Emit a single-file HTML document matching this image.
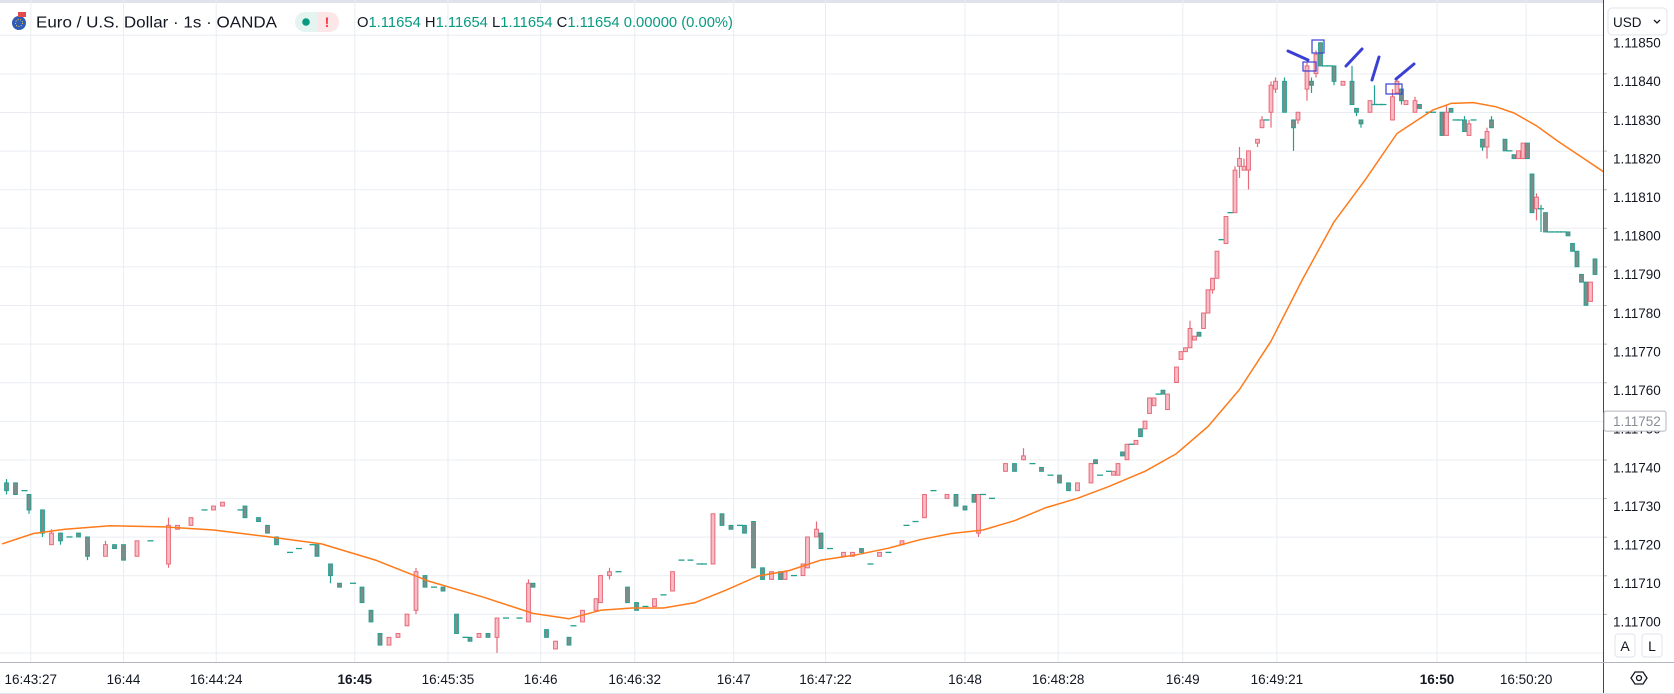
<!DOCTYPE html>
<html><head><meta charset="utf-8"><style>
html,body{margin:0;padding:0;background:#fff;width:1674px;height:694px;overflow:hidden}
svg{display:block;font-family:"Liberation Sans",sans-serif}
</style></head><body>
<svg id="chart" width="1674" height="694" viewBox="0 0 1674 694" xmlns="http://www.w3.org/2000/svg">
<rect x="0" y="0" width="1674" height="694" fill="#fff"/>
<rect x="0" y="0" width="1674" height="3" fill="#e0e3eb"/>
<g id="grid"></g>
<defs><clipPath id="plotclip"><rect x="0" y="0" width="1603" height="662"/></clipPath></defs>
<g id="plot" clip-path="url(#plotclip)"></g>
<g id="annot" stroke="#3b3fd3" fill="none">
<rect x="1312" y="40" width="12" height="13" stroke-width="1.2"/>
<rect x="1303" y="62" width="13" height="9" stroke-width="1.2"/>
<rect x="1386" y="84" width="16" height="10" stroke-width="1.2"/>
<line x1="1288" y1="51" x2="1308" y2="60" stroke-width="3" stroke-linecap="round"/>
<line x1="1346" y1="66" x2="1362" y2="49" stroke-width="3" stroke-linecap="round"/>
<line x1="1372" y1="80" x2="1379" y2="57" stroke-width="3" stroke-linecap="round"/>
<line x1="1396" y1="79" x2="1414" y2="64" stroke-width="3" stroke-linecap="round"/>
</g>
<g>
<g>
<circle cx="19" cy="23" r="7" fill="#2d5bb5"/><rect x="18" y="12" width="8" height="5" fill="#e04b4b"/><circle cx="19" cy="23" r="3.5" fill="none" stroke="#f4d03f" stroke-width="1" stroke-dasharray="1 1.5"/>
</g>
<text x="36" y="27.5" font-size="15.5" fill="#131722" textLength="241" lengthAdjust="spacingAndGlyphs">Euro / U.S. Dollar · 1s · OANDA</text>
<g>
<rect x="295" y="12" width="44" height="20" rx="10" fill="#e3f4f1"/>
<path d="M317 12 h12 a10 10 0 0 1 0 20 h-12 z" fill="#fde6e8"/>
<circle cx="306" cy="22" r="3.8" fill="#089981"/>
<text x="327" y="27" font-size="14" font-weight="bold" fill="#f23645" text-anchor="middle">!</text>
</g>
<text x="357" y="27" font-size="14.5" fill="#089981" textLength="376" lengthAdjust="spacingAndGlyphs"><tspan fill="#131722">O</tspan>1.11654 <tspan fill="#131722">H</tspan>1.11654 <tspan fill="#131722">L</tspan>1.11654 <tspan fill="#131722">C</tspan>1.11654 0.00000 (0.00%)</text>
</g>
<g id="axes"></g>
</svg>
<script>
// ---- data (prices) ----
const barIndex=[1,3,5,6,9,11,13,15,17,19,23,25,27,30,33,37,39,42,45,47,49,53,54,57,59,61,64,66,69,70,73,75,78,80,82,84,86,88,90,92,94,96,98,101,103,104,106,108,110,112,115,117,118,121,123,126,127,129,132,133,135,137,139,141,143,145,147,149,151,153,155,156,158,160,162,164,165,167,169,171,173,174,176,178,179,181,182,184,187,189,191,193,195,197,200,201,203,205,207,210,212,214,216,217,218,220,223,225,227,229,231,233,235,237,239,
242,243,244,246,247,248,249,250,251,252,253,254,255,256,257,258,259,261,262,263,264,265,266,267,268,269,270,271,272,273,274,275,276,277,279,280,281,
282,283,285,287,288,290,291,292,293,294,295,296,298,300,301,302,304,305,306,307,309,310,311,312,314,315,317,318,320,321,322,323,324,325,326,327,329,330,331,334,335,336,337,338,339,340,341,342,343,344,345,346,347,348,349,350,351,352,353,354];
const opens=[1.11736,1.11736,1.11734,1.11733,1.11729,1.11720,1.11723,1.11722,1.11723,1.11722,1.11717,1.11720,1.11720,1.11717,1.11721,1.11715,1.11724,1.11725,1.11729,1.11729,1.11730,1.11729,1.11730,1.11727,1.11725,1.11722,1.11718,1.11719,1.11720,1.11720,1.11715,1.11710,1.11710,1.11709,1.11703,1.11697,1.11694,1.11696,1.11699,1.11703,1.11712,1.11709,1.11709,1.11702,1.11696,1.11696,1.11696,1.11697,1.11696,1.11701,1.11701,1.11700,1.11710,1.11698,1.11693,1.11696,1.11699,1.11700,1.11703,1.11705,1.11712,1.11713,1.11709,1.11705,1.11704,1.11704,1.11707,1.11708,1.11716,1.11716,1.11715,1.11715,1.11715,1.11728,1.11725,1.11725,1.11725,1.11726,1.11714,1.11711,1.11713,1.11711,1.11712,1.11712,1.11714,1.11722,1.11723,1.11719,1.11717,1.11717,1.11719,1.11715,1.11717,1.11718,1.11720,1.11725,1.11726,1.11727,1.11734,1.11732,1.11733,1.11730,1.11733,1.11723,1.11733,1.11732,1.11739,1.11741,1.11742,1.11741,1.11740,1.11738,1.11738,1.11736,1.11734,
1.11736,1.11742,1.11738,1.11739,1.11738,1.11738,1.11744,1.11742,1.11746,1.11746,1.11750,1.11750,1.11754,1.11756,1.11759,1.11760,1.11755,1.11762,1.11768,1.11770,1.11771,1.11773,1.11775,1.11776,1.11780,1.11786,1.11789,1.11799,1.11798,1.11806,1.11806,1.11818,1.11817,1.11817,1.11824,1.11828,1.11830,
1.11832,1.11838,1.11840,1.11830,1.11830,1.11838,1.11840,1.11842,1.11850,1.11844,1.11844,1.11844,1.11839,1.11840,1.11833,1.11830,1.11832,1.11834,1.11834,1.11834,1.11830,1.11837,1.11838,1.11834,1.11832,1.11834,1.11832,1.11832,1.11832,1.11826,1.11833,1.11830,1.11830,1.11830,1.11826,1.11830,1.11825,1.11823,1.11830,1.11825,1.11822,1.11821,1.11820,1.11820,1.11824,1.11816,1.11807,1.11807,1.11806,1.11801,1.11801,1.11801,1.11801,1.11801,1.11798,1.11796,1.11790,1.11788,1.11783,1.11794];
const highs=[1.11737,1.11736,1.11734,1.11733,1.11729,1.11724,1.11723,1.11722,1.11723,1.11722,1.11721,1.11720,1.11720,1.11721,1.11721,1.11727,1.11725,1.11727,1.11729,1.11730,1.11731,1.11729,1.11730,1.11727,1.11725,1.11722,1.11718,1.11719,1.11720,1.11720,1.11715,1.11710,1.11710,1.11709,1.11703,1.11697,1.11696,1.11697,1.11702,1.11714,1.11712,1.11709,1.11709,1.11702,1.11696,1.11696,1.11697,1.11697,1.11701,1.11701,1.11701,1.11711,1.11710,1.11698,1.11695,1.11696,1.11699,1.11703,1.11706,1.11712,1.11714,1.11713,1.11709,1.11705,1.11704,1.11706,1.11707,1.11713,1.11716,1.11716,1.11715,1.11715,1.11728,1.11728,1.11725,1.11725,1.11725,1.11726,1.11714,1.11713,1.11713,1.11713,1.11712,1.11715,1.11722,1.11726,1.11723,1.11719,1.11718,1.11718,1.11719,1.11715,1.11718,1.11718,1.11721,1.11725,1.11726,1.11733,1.11734,1.11733,1.11733,1.11730,1.11733,1.11733,1.11733,1.11732,1.11741,1.11741,1.11745,1.11741,1.11740,1.11738,1.11738,1.11736,1.11736,
1.11741,1.11742,1.11738,1.11739,1.11739,1.11741,1.11744,1.11746,1.11746,1.11747,1.11750,1.11752,1.11758,1.11758,1.11759,1.11760,1.11759,1.11766,1.11770,1.11771,1.11778,1.11774,1.11775,1.11780,1.11786,1.11789,1.11796,1.11799,1.11805,1.11806,1.11818,1.11823,1.11820,1.11822,1.11825,1.11831,1.11830,
1.11840,1.11841,1.11841,1.11830,1.11832,1.11845,1.11841,1.11848,1.11850,1.11844,1.11844,1.11844,1.11840,1.11844,1.11833,1.11830,1.11835,1.11839,1.11834,1.11834,1.11838,1.11841,1.11838,1.11835,1.11836,1.11834,1.11832,1.11832,1.11832,1.11834,1.11833,1.11830,1.11830,1.11831,1.11830,1.11830,1.11825,1.11828,1.11831,1.11825,1.11822,1.11821,1.11822,1.11824,1.11824,1.11816,1.11811,1.11808,1.11806,1.11801,1.11801,1.11801,1.11801,1.11801,1.11798,1.11796,1.11790,1.11788,1.11788,1.11794];
const lows=[1.11733,1.11733,1.11734,1.11728,1.11722,1.11720,1.11720,1.11722,1.11722,1.11716,1.11717,1.11719,1.11716,1.11717,1.11721,1.11714,1.11724,1.11725,1.11729,1.11729,1.11730,1.11729,1.11727,1.11726,1.11723,1.11720,1.11718,1.11719,1.11720,1.11717,1.11710,1.11709,1.11710,1.11705,1.11700,1.11694,1.11694,1.11696,1.11699,1.11702,1.11709,1.11709,1.11708,1.11697,1.11696,1.11695,1.11696,1.11696,1.11692,1.11701,1.11701,1.11700,1.11709,1.11696,1.11693,1.11694,1.11699,1.11700,1.11703,1.11705,1.11711,1.11713,1.11705,1.11703,1.11704,1.11704,1.11707,1.11708,1.11716,1.11716,1.11715,1.11715,1.11715,1.11725,1.11724,1.11725,1.11723,1.11714,1.11711,1.11711,1.11711,1.11711,1.11712,1.11712,1.11714,1.11722,1.11719,1.11719,1.11717,1.11717,1.11718,1.11715,1.11717,1.11718,1.11720,1.11725,1.11726,1.11727,1.11734,1.11732,1.11730,1.11729,1.11731,1.11722,1.11733,1.11732,1.11739,1.11739,1.11742,1.11741,1.11739,1.11738,1.11736,1.11734,1.11734,
1.11736,1.11741,1.11738,1.11739,1.11738,1.11738,1.11743,1.11742,1.11746,1.11746,1.11748,1.11750,1.11754,1.11756,1.11759,1.11759,1.11755,1.11762,1.11768,1.11770,1.11771,1.11773,1.11774,1.11776,1.11780,1.11785,1.11789,1.11799,1.11798,1.11806,1.11806,1.11815,1.11817,1.11812,1.11823,1.11828,1.11830,
1.11828,1.11837,1.11832,1.11822,1.11829,1.11835,1.11837,1.11841,1.11844,1.11844,1.11844,1.11839,1.11839,1.11834,1.11831,1.11828,1.11832,1.11834,1.11834,1.11834,1.11830,1.11837,1.11834,1.11834,1.11832,1.11833,1.11832,1.11832,1.11826,1.11826,1.11832,1.11830,1.11830,1.11827,1.11826,1.11830,1.11822,1.11820,1.11828,1.11822,1.11822,1.11820,1.11820,1.11820,1.11820,1.11806,1.11804,1.11801,1.11801,1.11801,1.11801,1.11801,1.11801,1.11800,1.11796,1.11792,1.11788,1.11782,1.11783,1.11790];
const closes=[1.11734,1.11733,1.11734,1.11729,1.11723,1.11723,1.11721,1.11722,1.11722,1.11717,1.11720,1.11719,1.11716,1.11721,1.11721,1.11725,1.11725,1.11727,1.11729,1.11730,1.11731,1.11729,1.11727,1.11726,1.11723,1.11720,1.11718,1.11719,1.11720,1.11717,1.11712,1.11709,1.11710,1.11705,1.11700,1.11694,1.11696,1.11697,1.11702,1.11713,1.11709,1.11709,1.11708,1.11697,1.11696,1.11695,1.11697,1.11696,1.11701,1.11701,1.11701,1.11710,1.11709,1.11696,1.11695,1.11694,1.11699,1.11703,1.11706,1.11712,1.11713,1.11713,1.11705,1.11703,1.11704,1.11706,1.11707,1.11713,1.11716,1.11716,1.11715,1.11715,1.11728,1.11725,1.11724,1.11725,1.11723,1.11714,1.11711,1.11713,1.11711,1.11713,1.11712,1.11715,1.11722,1.11724,1.11719,1.11719,1.11718,1.11718,1.11718,1.11715,1.11718,1.11718,1.11721,1.11725,1.11726,1.11733,1.11734,1.11733,1.11730,1.11729,1.11731,1.11733,1.11733,1.11732,1.11741,1.11739,1.11743,1.11741,1.11739,1.11738,1.11736,1.11734,1.11736,
1.11741,1.11741,1.11738,1.11739,1.11739,1.11741,1.11743,1.11746,1.11746,1.11747,1.11748,1.11752,1.11758,1.11758,1.11759,1.11759,1.11759,1.11766,1.11770,1.11771,1.11776,1.11774,1.11774,1.11780,1.11786,1.11789,1.11796,1.11799,1.11805,1.11806,1.11817,1.11820,1.11818,1.11822,1.11825,1.11830,1.11830,
1.11839,1.11840,1.11832,1.11828,1.11832,1.11844,1.11839,1.11847,1.11844,1.11844,1.11844,1.11840,1.11840,1.11834,1.11832,1.11829,1.11835,1.11834,1.11834,1.11834,1.11836,1.11840,1.11835,1.11835,1.11835,1.11833,1.11832,1.11832,1.11826,1.11832,1.11832,1.11830,1.11830,1.11827,1.11829,1.11830,1.11823,1.11827,1.11828,1.11822,1.11822,1.11820,1.11822,1.11824,1.11820,1.11806,1.11810,1.11807,1.11801,1.11801,1.11801,1.11801,1.11801,1.11800,1.11796,1.11792,1.11788,1.11782,1.11788,1.11790];
const maIndex=[0,7,14,24,36,47,59,71,83,95,107,118,126,133,140,147,154,161,168,175,182,190,197,204,211,218,225,232,239,246,254,261,268,275,282,289,296,303,310,318,322,327,332,336,341,346,351,356];
const maValues=[1.117202,1.117229,1.117240,1.117249,1.117246,1.117238,1.117221,1.117202,1.117160,1.117105,1.117064,1.117022,1.117008,1.117030,1.117036,1.117036,1.117050,1.117083,1.117119,1.117133,1.117160,1.117174,1.117191,1.117213,1.117229,1.117238,1.117262,1.117296,1.117320,1.117351,1.117390,1.117436,1.117506,1.117602,1.117727,1.117887,1.118036,1.118146,1.118265,1.118326,1.118343,1.118345,1.118334,1.118318,1.118285,1.118243,1.118204,1.118165];
const priceTicks=[1.11690,1.11700,1.11710,1.11720,1.11730,1.11740,1.11750,1.11760,1.11770,1.11780,1.11790,1.11800,1.11810,1.11820,1.11830,1.11840,1.11850];
const timeLabels=["16:43:27","16:44","16:44:24","16:45","16:45:35","16:46","16:46:32","16:47","16:47:22","16:48","16:48:28","16:49","16:49:21","16:50","16:50:20"];
const timeLabelIndex=[6.4,27,47.6,78.4,99.1,119.7,140.6,162.6,183,214,234.7,262.4,283.3,318.9,338.7];
const boldTimes=["16:45","16:50"];
const lastPrice=1.11752;

// ---- scales ----
const NS="http://www.w3.org/2000/svg";
const STEP=4.5;
function xs(i){return i*STEP+2;}
function ys(v){return 621.9-(v-1.117)*1e5*3.861;}
function mk(tag,attrs,parent){const e=document.createElementNS(NS,tag);for(const k in attrs)e.setAttribute(k,attrs[k]);parent.appendChild(e);return e;}

const grid=document.getElementById('grid');
const plot=document.getElementById('plot');
const axes=document.getElementById('axes');

// gridlines
priceTicks.forEach(v=>{
  const l=mk('line',{x1:0,x2:1603,y1:ys(v)-7.5,y2:ys(v)-7.5,stroke:'#e9edf2','stroke-width':1},grid);
  
  
});
timeLabelIndex.forEach(i=>{
  const l=mk('line',{x1:xs(i),x2:xs(i),y1:0,y2:662,stroke:'#e9edf2','stroke-width':1},grid);
  
  
});

// candles
const UPF='#f7bcc6',UPS='#e66a78',DNF='#7f8c8a',DNS='#22a08f';
for(let k=0;k<barIndex.length;k++){
  const x=xs(barIndex[k]),o=opens[k],c=closes[k],h=highs[k],l=lows[k];
  const g=mk('g',{},plot);
  
  
  const up=c>o, flat=Math.abs(c-o)<1e-9;
  const col=flat?DNS:(up?UPS:DNS);
  if(h-l>1e-9){mk('line',{x1:x,x2:x,y1:ys(h),y2:ys(l),stroke:col,'stroke-width':1.2},g);}
  if(flat){
    mk('line',{x1:x-3,x2:x+3,y1:ys(o),y2:ys(o),stroke:DNS,'stroke-width':1.3},g);
  }else{
    const top=ys(Math.max(o,c)),bot=ys(Math.min(o,c));
    mk('rect',{x:x-1.9,y:top,width:3.8,height:Math.max(bot-top,1.5),fill:up?UPF:DNF,stroke:col,'stroke-width':1},g);
  }
}

// moving average
let d='';
maIndex.forEach((i,k)=>{d+=(k?'L':'M')+xs(i).toFixed(1)+' '+ys(maValues[k]).toFixed(1);});
const ma=mk('path',{d:d,fill:'none',stroke:'#ff7a1a','stroke-width':1.5,'stroke-linejoin':'round'},plot);



// axes frame
const ra=mk('line',{x1:1603.5,x2:1603.5,y1:0,y2:694,stroke:'#434651','stroke-width':1},axes);


const ta=mk('line',{x1:0,x2:1603,y1:662.5,y2:662.5,stroke:'#b2b5be','stroke-width':1},axes);


const tb=mk('line',{x1:0,x2:1674,y1:693.5,y2:693.5,stroke:'#e0e3eb','stroke-width':1},axes);


const tb2=mk('line',{x1:1603,x2:1674,y1:662.5,y2:662.5,stroke:'#b2b5be','stroke-width':1},axes);



// price labels
priceTicks.forEach(v=>{
  if(v<1.11695)return;
  const t=mk('text',{x:1613,y:ys(v)+4.8,'font-size':13.5,fill:'#131722'},axes);
  t.textContent=v.toFixed(5);
  
  
  mk('line',{x1:1604,x2:1607,y1:ys(v)-7.5,y2:ys(v)-7.5,stroke:'#b2b5be'},axes);
});
// time labels
timeLabels.forEach((s,k)=>{
  const t=mk('text',{x:xs(timeLabelIndex[k]),y:684,'font-size':13.5,fill:'#131722','text-anchor':'middle','font-weight':boldTimes.includes(s)?'bold':'normal'},axes);
  t.textContent=s;
  
  
});
// last price label
const lp=mk('g',{},axes);


mk('rect',{x:1604,y:ys(lastPrice)-10,width:62,height:20,rx:2,fill:'#fff',stroke:'#b2b5be'},lp);
const lpt=mk('text',{x:1613,y:ys(lastPrice)+4.8,'font-size':13.5,fill:'#8a8d96'},lp);
lpt.textContent=lastPrice.toFixed(5);
// USD button
const usd=mk('g',{},axes);


mk('rect',{x:1604,y:0,width:70,height:38,fill:'#fff'},usd);
mk('rect',{x:1608,y:8,width:59,height:27,rx:4,fill:'#fff',stroke:'#e0e3eb'},usd);
const ut=mk('text',{x:1613,y:27,'font-size':13.5,fill:'#131722'},usd);
ut.textContent='USD';
mk('path',{d:'M1654 20 l3 3 l3 -3',fill:'none',stroke:'#131722','stroke-width':1.3},usd);
// A / L buttons
[['A',1615,'auto-scale-button'],['L',1642,'log-scale-button']].forEach(b=>{
  const g=mk('g',{},axes);
  
  
  mk('rect',{x:b[1],y:634,width:20,height:23,rx:3,fill:'#fff',stroke:'#e0e3eb'},g);
  const t=mk('text',{x:b[1]+10,y:651,'font-size':14,fill:'#131722','text-anchor':'middle'},g);
  t.textContent=b[0];
});
// settings eye icon
const eye=mk('g',{},axes);


mk('path',{d:'M1631 678 l4 -6 h8 l4 6 l-4 6 h-8 z',fill:'none',stroke:'#131722','stroke-width':1.3},eye);
mk('circle',{cx:1639,cy:678,r:2.5,fill:'none',stroke:'#131722','stroke-width':1.3},eye);
</script>
</body></html>
